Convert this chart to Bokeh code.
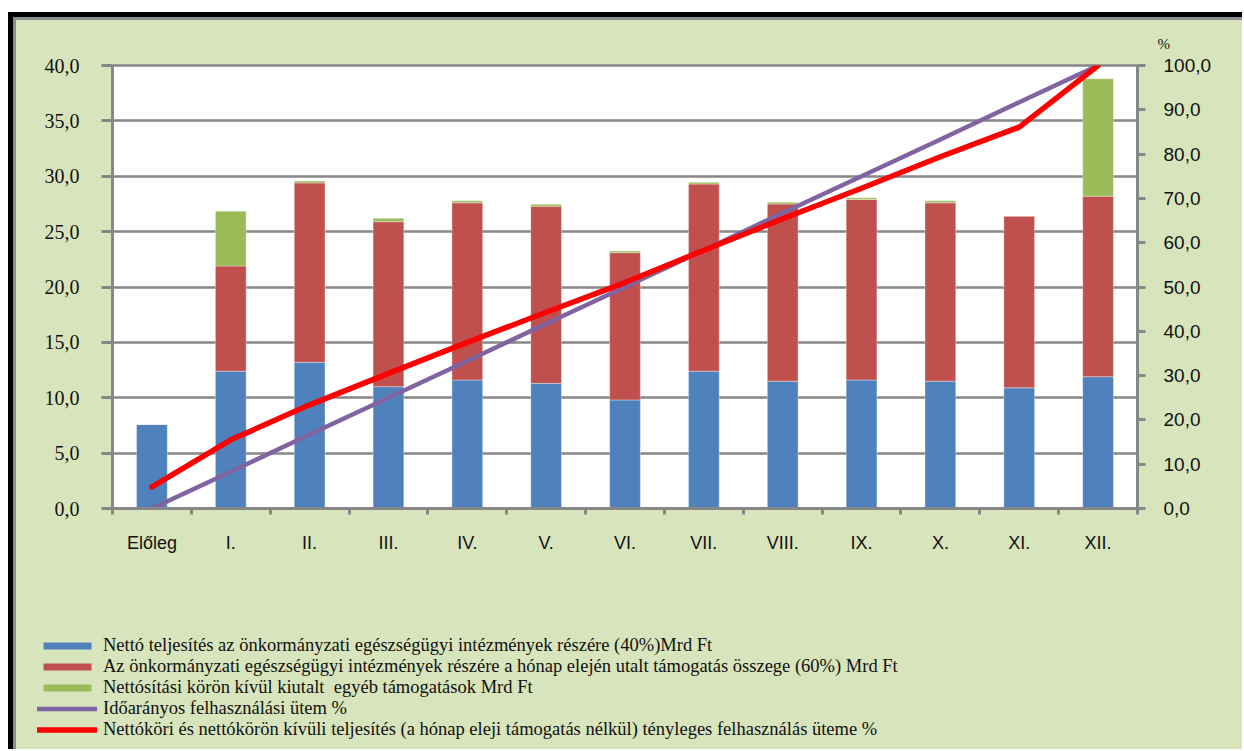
from bokeh.plotting import figure
from bokeh.layouts import column
from bokeh.models import (Range1d, LinearAxis, FixedTicker, CustomJSTickFormatter,
                          Legend, LegendItem, ColumnDataSource)
from bokeh.embed import file_html
from bokeh.resources import INLINE

# ---------------- data ----------------
categories = ["Előleg", "I.", "II.", "III.", "IV.", "V.", "VI.", "VII.",
              "VIII.", "IX.", "X.", "XI.", "XII."]
netto = [7.6, 12.4, 13.2, 11.0, 11.6, 11.3, 9.8, 12.4, 11.5, 11.6, 11.5, 10.9, 11.9]
honap_eleji = [0.0, 9.5, 16.2, 14.9, 16.0, 16.0, 13.3, 16.9, 16.0, 16.3, 16.1, 15.5, 16.3]
egyeb = [0.0, 4.95, 0.17, 0.3, 0.18, 0.18, 0.15, 0.15, 0.15, 0.15, 0.18, 0.0, 10.6]
idoaranyos = [0.0, 8.3, 16.7, 25.0, 33.3, 41.7, 50.0, 58.3, 66.7, 75.0, 83.3, 91.7, 100.0]
tenyleges = [4.9, 15.5, 23.4, 30.5, 37.5, 44.3, 51.0, 58.3, 65.4, 72.3, 79.4, 86.1, 100.0]
left_ticks = [0, 5, 10, 15, 20, 25, 30, 35, 40]
right_ticks = [0, 10, 20, 30, 40, 50, 60, 70, 80, 90, 100]
legend_labels = [
    "Nettó teljesítés az önkormányzati egészségügyi intézmények részére (40%)Mrd Ft",
    "Az önkormányzati egészségügyi intézmények részére a hónap elején utalt támogatás összege (60%) Mrd Ft",
    "Nettósítási körön kívül kiutalt  egyéb támogatások Mrd Ft",
    "Időarányos felhasználási ütem %",
    "Nettóköri és nettókörön kívüli teljesítés (a hónap eleji támogatás nélkül) tényleges felhasználás üteme %",
]

# ---------------- styles ----------------
BLUE, RED, GREEN = "#4F81BD", "#C0504D", "#9BBB59"
PURPLE, LINERED = "#8064A2", "#FF0000"
BG = "#D8E4BC"
GRID = "#878787"
TXT = "#111111"

n = len(categories)
xs = [i + 0.5 for i in range(n)]
src = ColumnDataSource(dict(x=xs, netto=netto, honap=honap_eleji, egyeb=egyeb,
                            ido=idoaranyos, teny=tenyleges))

W = 1226
H1, H2 = 580, 149

p = figure(width=W, height=H1, output_backend="svg", toolbar_location=None,
           x_range=Range1d(0, n), y_range=Range1d(0, 40),
           min_border_left=96, min_border_right=W - 1121, min_border_top=45,
           min_border_bottom=H1 - 488)
p.frame_align = False
p.border_fill_color = BG
p.background_fill_color = "white"
p.outline_line_color = GRID
p.outline_line_width = 2.5
p.extra_y_ranges = {"pct": Range1d(0, 100)}

bars = p.vbar_stack(["netto", "honap", "egyeb"], x="x", width=0.39,
                    color=[BLUE, RED, GREEN], line_color="white", line_alpha=0.35,
                    line_width=1, source=src)
r_ido = p.line("x", "ido", source=src, y_range_name="pct", color=PURPLE,
               line_width=4.5, line_join="round")
r_teny = p.line("x", "teny", source=src, y_range_name="pct", color=LINERED,
                line_width=5.5, line_join="round", line_cap="round")

# "%" above the right axis
p.title.text = "%"
p.title.align = "left"
p.title.offset = 1045
p.title.standoff = 27
p.title.text_font = "Liberation Serif"
p.title.text_font_size = "15px"
p.title.text_font_style = "normal"
p.title.text_color = TXT

# x axis
xa = p.xaxis[0]
xa.ticker = FixedTicker(ticks=xs, minor_ticks=list(range(n + 1)))
xa.formatter = CustomJSTickFormatter(args=dict(labels=categories),
                                     code="return labels[Math.floor(tick)];")
xa.major_tick_out = 0
xa.major_tick_in = 0
xa.minor_tick_out = 6
xa.minor_tick_in = 0
xa.minor_tick_line_color = GRID
xa.minor_tick_line_width = 3
xa.axis_line_color = GRID
xa.axis_line_width = 3
xa.major_label_standoff = 18
xa.major_label_text_font = "Liberation Sans"
xa.major_label_text_font_size = "18px"
xa.major_label_text_color = TXT

comma = CustomJSTickFormatter(code="return tick.toFixed(1).replace('.', ',');")

ya = p.yaxis[0]
ya.ticker = FixedTicker(ticks=left_ticks)
ya.formatter = comma
ya.major_tick_out = 11
ya.major_tick_in = 0
ya.minor_tick_line_color = None
ya.major_tick_line_color = GRID
ya.major_tick_line_width = 3
ya.axis_line_color = GRID
ya.axis_line_width = 3
ya.major_label_standoff = 22
ya.major_label_text_font = "Liberation Serif"
ya.major_label_text_font_size = "20px"
ya.major_label_text_color = TXT

ra = LinearAxis(y_range_name="pct", ticker=FixedTicker(ticks=right_ticks), formatter=comma)
ra.major_tick_out = 8
ra.major_tick_in = 0
ra.minor_tick_line_color = None
ra.major_tick_line_color = GRID
ra.major_tick_line_width = 3
ra.axis_line_color = GRID
ra.axis_line_width = 3
ra.major_label_standoff = 18
ra.major_label_text_font = "Liberation Sans"
ra.major_label_text_font_size = "19px"
ra.major_label_text_color = TXT
p.add_layout(ra, "right")

p.xgrid.grid_line_color = None
p.ygrid.ticker = FixedTicker(ticks=left_ticks)
p.ygrid.grid_line_color = GRID
p.ygrid.grid_line_width = 2.5

# ---------------- legend panel ----------------
q = figure(width=W, height=H2, output_backend="svg", toolbar_location=None,
           x_range=Range1d(0, 1), y_range=Range1d(0, 1),
           x_axis_location=None, y_axis_location=None,
           min_border_left=0, min_border_right=0, min_border_top=0, min_border_bottom=0)
q.frame_align = False
q.grid.grid_line_color = None
q.outline_line_color = None
q.border_fill_color = BG
q.background_fill_color = BG

# legend keys: same styles, placed outside the visible range of the legend panel
k_blue = q.vbar(x=[5], top=[5], width=0.1, fill_color=BLUE, line_color=None)
k_red = q.vbar(x=[5], top=[5], width=0.1, fill_color=RED, line_color=None)
k_green = q.vbar(x=[5], top=[5], width=0.1, fill_color=GREEN, line_color=None)
k_ido = q.line(x=[5, 6], y=[5, 6], color=PURPLE, line_width=4.5, line_cap="round")
k_teny = q.line(x=[5, 6], y=[5, 6], color=LINERED, line_width=5.5, line_cap="round")

legend = Legend(items=[LegendItem(label=legend_labels[0], renderers=[k_blue]),
                       LegendItem(label=legend_labels[1], renderers=[k_red]),
                       LegendItem(label=legend_labels[2], renderers=[k_green]),
                       LegendItem(label=legend_labels[3], renderers=[k_ido]),
                       LegendItem(label=legend_labels[4], renderers=[k_teny])],
                location=(21, 9), orientation="vertical", padding=0, margin=0,
                spacing=0, glyph_width=60, glyph_height=9, label_height=21,
                label_standoff=6, label_text_font="Liberation Serif",
                label_text_font_size="18.5px", label_text_color=TXT,
                background_fill_alpha=0, border_line_color=None)
q.add_layout(legend)

layout = column(p, q, spacing=0)
layout.styles = {"border-left": "5px solid black", "border-top": "5px solid black",
                 "padding-left": "3px", "padding-top": "3px",
                 "background-color": BG, "box-shadow": "inset 3px 3px 0 #8c8c8c",
                 "position": "relative", "left": "8px", "top": "12px"}

open("out.html", "w").write(file_html(layout, INLINE))
